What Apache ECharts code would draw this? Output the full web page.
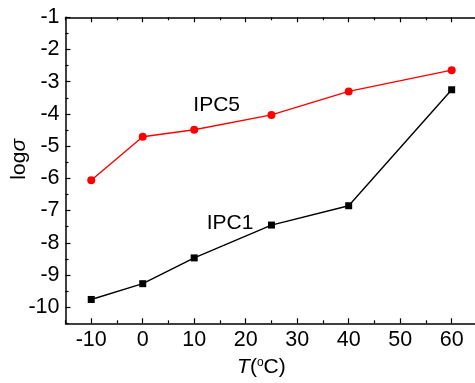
<!DOCTYPE html>
<html>
<head>
<meta charset="utf-8">
<script src="https://cdn.jsdelivr.net/npm/echarts@6/dist/echarts.min.js"></script>
<style>html,body{margin:0;padding:0;background:#fff}#c{width:475px;height:383px}</style>
</head>
<body>
<div id="c"></div>
<script>
var temps = [-10, 0, 10, 25, 40, 60];
var ipc5 = [-6.06, -4.71, -4.49, -4.03, -3.30, -2.64];
var ipc1 = [-9.76, -9.27, -8.47, -7.45, -6.85, -3.25];
var xMajor = [-10, 0, 10, 20, 30, 40, 50, 60];
var xMinor = [-15, -5, 5, 15, 25, 35, 45, 55, 65];
var yMajor = [-10, -9, -8, -7, -6, -5, -4, -3, -2, -1];
var yMinor = [-10.5, -9.5, -8.5, -7.5, -6.5, -5.5, -4.5, -3.5, -2.5, -1.5];
var xRange = [-15, 65];
var yRange = [-10.5, -1];

var FONT = 'Liberation Sans, Arial, sans-serif';
var lineStyle = {color: '#000', width: 1.5};

function pairs(xs, ys) { return xs.map(function (x, i) { return [x, ys[i]]; }); }

var chart = echarts.init(document.getElementById('c'));
chart.setOption({
  animation: false,
  backgroundColor: '#fff',
  grid: {left: 65.5, top: 17.3, right: -2.4, bottom: 59.7, containLabel: false, outerBoundsMode: 'none'},
  xAxis: [
    {type: 'value', position: 'bottom', min: xRange[0], max: xRange[1],
     axisLine: {show: true, onZero: false, lineStyle: lineStyle},
     axisTick: {show: true, inside: true, length: 5, lineStyle: {color: '#000', width: 1.2}, customValues: xMajor},
     axisLabel: {show: true, customValues: xMajor, color: '#000', fontSize: 21.5, fontFamily: FONT, margin: 6},
     splitLine: {show: false},
     name: '{it|T}{n|(}{sup|o}{n|C)}', nameLocation: 'middle', nameGap: 33, nameMoveOverlap: false,
     nameTextStyle: {padding: [0, 20, 0, 0], rich: {
       it: {fontSize: 21, fontFamily: FONT, fontStyle: 'italic', color: '#000'},
       n: {fontSize: 21, fontFamily: FONT, color: '#000'},
       sup: {fontSize: 12, fontFamily: FONT, color: '#000', padding: [0, 0, 10, 0]}
     }}},
    {type: 'value', position: 'bottom', min: xRange[0], max: xRange[1],
     axisLine: {show: false, onZero: false},
     axisTick: {show: true, inside: true, length: 3, lineStyle: {color: '#000', width: 1.2}, customValues: xMinor},
     axisLabel: {show: false}, splitLine: {show: false}},
    {type: 'value', position: 'top', min: xRange[0], max: xRange[1],
     axisLine: {show: true, onZero: false, lineStyle: lineStyle},
     axisTick: {show: true, inside: true, length: 5, lineStyle: {color: '#000', width: 1.2}, customValues: xMajor},
     axisLabel: {show: false}, splitLine: {show: false}},
    {type: 'value', position: 'top', min: xRange[0], max: xRange[1],
     axisLine: {show: false, onZero: false},
     axisTick: {show: true, inside: true, length: 3, lineStyle: {color: '#000', width: 1.2}, customValues: xMinor},
     axisLabel: {show: false}, splitLine: {show: false}}
  ],
  yAxis: [
    {type: 'value', position: 'left', min: yRange[0], max: yRange[1],
     axisLine: {show: true, onZero: false, lineStyle: lineStyle},
     axisTick: {show: true, inside: true, length: 5, lineStyle: {color: '#000', width: 1.2}, customValues: yMajor},
     axisLabel: {show: true, customValues: yMajor, color: '#000', fontSize: 21.5, fontFamily: FONT, margin: 6},
     splitLine: {show: false},
     name: '{n|log}{it|σ}', nameLocation: 'middle', nameRotate: 90, nameGap: 36, nameMoveOverlap: false,
     nameTextStyle: {padding: [0, 0, 0, 22], rich: {
       n: {fontSize: 21, fontFamily: FONT, color: '#000'},
       it: {fontSize: 21, fontFamily: FONT, fontStyle: 'italic', color: '#000'}
     }}},
    {type: 'value', position: 'left', min: yRange[0], max: yRange[1],
     axisLine: {show: false, onZero: false},
     axisTick: {show: true, inside: true, length: 3, lineStyle: {color: '#000', width: 1.2}, customValues: yMinor},
     axisLabel: {show: false}, splitLine: {show: false}}
  ],
  series: [
    {type: 'line', name: 'IPC5', xAxisIndex: 0, yAxisIndex: 0, data: pairs(temps, ipc5),
     symbol: 'circle', symbolSize: 8, itemStyle: {color: '#ff0000'},
     lineStyle: {color: '#ff0000', width: 1.4}},
    {type: 'line', name: 'IPC1', xAxisIndex: 0, yAxisIndex: 0, data: pairs(temps, ipc1),
     symbol: 'rect', symbolSize: 7, itemStyle: {color: '#000'},
     lineStyle: {color: '#000', width: 1.4}}
  ],
  graphic: [
    {type: 'text', x: 216.7, y: 105.5, style: {text: 'IPC5', font: '21px ' + FONT, fill: '#000', align: 'center', verticalAlign: 'middle'}},
    {type: 'text', x: 230, y: 223, style: {text: 'IPC1', font: '21px ' + FONT, fill: '#000', align: 'center', verticalAlign: 'middle'}}
  ]
});
</script>
</body>
</html>
